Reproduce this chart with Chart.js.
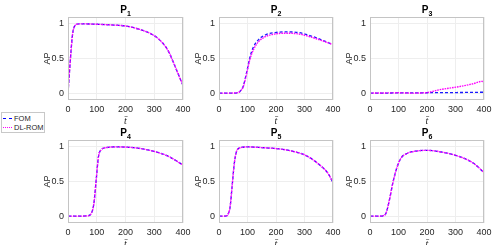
<!DOCTYPE html>
<html>
<head>
<meta charset="utf-8">
<script src="https://cdn.jsdelivr.net/npm/chart.js@4.4.0/dist/chart.umd.min.js"></script>
<style>
  body { margin: 0; width: 493px; height: 245px; overflow: hidden; background: #fff; position: relative;
         font-family: "Liberation Sans", Arial, sans-serif; }
  canvas { position: absolute; }
  .ttl { position: absolute; width: 40px; text-align: center; font-size: 10px; font-weight: bold; color: #000; line-height: 10px; }
  .ttl sub { font-size: 7px; vertical-align: -3px; line-height: 0; }
  .legend { position: absolute; left: 1px; top: 112px; width: 42px; height: 19px; border: 1px solid #c8c8c8; background: #fff;
            font-size: 7.5px; color: #262626; white-space: nowrap; }
  .legend div { position: absolute; left: 12px; line-height: 9px; }
  .legend span { position: absolute; left: 1px; width: 9px; height: 0; }
</style>
</head>
<body>

<div class="legend">
  <span style="top:5px; border-top:1.3px dashed #0000ff;"></span><div style="top:1px;">FOM</div>
  <span style="top:14px; border-top:1.3px dotted #ff00ff;"></span><div style="top:10px;">DL-ROM</div>
</div>

<script>
// 데이터 (t, FOM, DL-ROM)
const tP1 = [0, 5, 10, 15, 20, 25, 30, 40, 60, 100, 150, 200, 250, 300, 330, 350, 365, 380, 390, 400];
const fomP1 = [0, 0.3, 0.58, 0.82, 0.94, 0.98, 0.995, 1.0, 1.0, 0.995, 0.985, 0.97, 0.92, 0.83, 0.72, 0.6, 0.46, 0.31, 0.21, 0.11];
const romP1 = [0, 0.3, 0.58, 0.82, 0.94, 0.98, 0.995, 1.0, 1.0, 0.995, 0.985, 0.97, 0.92, 0.83, 0.72, 0.6, 0.46, 0.31, 0.21, 0.115];

const tP2 = [0, 40, 65, 75, 85, 97, 108, 120, 138, 162, 197, 232, 280, 327, 360, 400];
const fomP2 = [0, 0, 0.005, 0.03, 0.1, 0.3, 0.51, 0.66, 0.77, 0.84, 0.875, 0.885, 0.875, 0.82, 0.77, 0.70];
const romP2 = [0, 0, 0.005, 0.03, 0.09, 0.28, 0.48, 0.62, 0.74, 0.815, 0.855, 0.865, 0.855, 0.805, 0.76, 0.70];

const tP3 = [0, 50, 100, 150, 200, 245, 304, 362, 392, 400];
const fomP3 = [0, 0, 0.003, 0.003, 0.005, 0.006, 0.008, 0.01, 0.012, 0.012];
const romP3 = [0, 0.002, 0.004, 0.0, 0.008, 0.05, 0.087, 0.135, 0.17, 0.165];

const tP4 = [0, 50, 69, 81, 90, 98, 106, 116, 133, 168, 227, 285, 344, 400];
const fomP4 = [0, 0, 0.005, 0.04, 0.18, 0.52, 0.86, 0.96, 0.99, 1.0, 0.99, 0.95, 0.874, 0.74];
const romP4 = [0, 0, 0.005, 0.04, 0.18, 0.52, 0.86, 0.96, 0.99, 1.0, 0.99, 0.95, 0.874, 0.74];

const tP5 = [0, 20, 25, 30, 39, 46, 54, 62, 77, 101, 150, 200, 248, 306, 353, 382, 400];
const fomP5 = [0, 0, 0.003, 0.015, 0.135, 0.43, 0.77, 0.94, 0.99, 1.0, 0.99, 0.976, 0.947, 0.874, 0.74, 0.62, 0.485];
const romP5 = [0, 0, 0.003, 0.015, 0.135, 0.43, 0.77, 0.94, 0.99, 1.0, 0.99, 0.976, 0.947, 0.874, 0.74, 0.62, 0.485];

const tP6 = [0, 40, 47, 56, 68, 80, 92, 109, 127, 162, 200, 245, 304, 362, 400];
const fomP6 = [0, 0, 0.005, 0.04, 0.23, 0.475, 0.67, 0.84, 0.9, 0.94, 0.95, 0.93, 0.874, 0.767, 0.63];
const romP6 = [0, 0, 0.005, 0.04, 0.23, 0.475, 0.67, 0.84, 0.9, 0.94, 0.95, 0.93, 0.874, 0.767, 0.63];

const xTicks = [0, 100, 200, 300, 400];
const yTicks = [0, 0.5, 1];
const titles = ['1', '2', '3', '4', '5', '6'];

// 패널 위치 (plot 영역 left, width, top)
const panels = [
    { t: tP1, fom: fomP1, rom: romP1, left: 68, w: 115, top: 17 },
    { t: tP2, fom: fomP2, rom: romP2, left: 219, w: 114, top: 17 },
    { t: tP3, fom: fomP3, rom: romP3, left: 370, w: 114, top: 17 },
    { t: tP4, fom: fomP4, rom: romP4, left: 68, w: 115, top: 140 },
    { t: tP5, fom: fomP5, rom: romP5, left: 219, w: 114, top: 140 },
    { t: tP6, fom: fomP6, rom: romP6, left: 370, w: 114, top: 140 }
];

const PAD_TOP = 10, PAD_RIGHT = 12, Y_W = 26, X_H = 27, PLOT_H = 83;
const tickFont = { family: '"Liberation Sans", Arial, sans-serif', size: 9 };

// 축 박스
const boxPlugin = {
    id: 'box',
    afterDraw(chart) {
        const a = chart.chartArea, ctx = chart.ctx;
        ctx.save();
        ctx.strokeStyle = '#c4c4c4';
        ctx.lineWidth = 1;
        ctx.strokeRect(a.left + 0.5, a.top + 0.5, a.right - a.left - 1, a.bottom - a.top - 1);
        ctx.restore();
    }
};

function pts(t, y) {
    return t.map(function(v, i) { return { x: v, y: y[i] }; });
}

panels.forEach(function(p, i) {
    const cv = document.createElement('canvas');
    const cw = Y_W + p.w + PAD_RIGHT, ch = PAD_TOP + PLOT_H + X_H;
    cv.width = cw; cv.height = ch;
    cv.style.left = (p.left - Y_W) + 'px';
    cv.style.top = (p.top - PAD_TOP) + 'px';
    cv.style.width = cw + 'px'; cv.style.height = ch + 'px';
    document.body.appendChild(cv);

    // 제목
    const tt = document.createElement('div');
    tt.className = 'ttl';
    tt.innerHTML = 'P<sub>' + titles[i] + '</sub>';
    tt.style.left = (p.left + p.w / 2 - 20) + 'px';
    tt.style.top = (p.top - 12) + 'px';
    document.body.appendChild(tt);

    new Chart(cv, {
        type: 'line',
        data: {
            datasets: [{
                label: 'FOM',
                data: pts(p.t, p.fom),
                borderColor: '#1a1aff',
                borderWidth: 1.3,
                borderDash: [3, 2],
                pointRadius: 0,
                order: 1,
                cubicInterpolationMode: 'monotone'
            },
            {
                label: 'DL-ROM',
                data: pts(p.t, p.rom),
                borderColor: '#ff00ff',
                borderWidth: 1.4,
                borderDash: [1.6, 0.9],
                pointRadius: 0,
                order: 0,
                cubicInterpolationMode: 'monotone'
            }]
        },
        options: {
            responsive: false,
            animation: false,
            layout: { padding: { top: PAD_TOP, right: PAD_RIGHT, left: 0, bottom: 0 } },
            plugins: { legend: { display: false }, tooltip: { enabled: false } },
            scales: {
                x: {
                    type: 'linear', min: 0, max: 400,
                    afterBuildTicks: function(s) { s.ticks = xTicks.map(function(v) { return { value: v }; }); },
                    afterFit: function(s) { s.height = X_H; },
                    grid: { color: '#eeeeee', drawTicks: false },
                    border: { display: false },
                    ticks: { padding: 4, color: '#262626', font: tickFont, maxRotation: 0,
                             callback: function(v) { return String(v); } },
                    title: { display: true, text: 't\u0304', color: '#262626', padding: 0,
                             font: { family: '"Liberation Serif", serif', size: 10, style: 'italic' } }
                },
                y: {
                    min: -0.1, max: 1.1,
                    afterBuildTicks: function(s) { s.ticks = yTicks.map(function(v) { return { value: v }; }); },
                    afterFit: function(s) { s.width = Y_W; },
                    grid: { color: '#eeeeee', drawTicks: false },
                    border: { display: false },
                    ticks: { padding: 4, color: '#262626', font: tickFont,
                             callback: function(v) { return String(v); } },
                    title: { display: true, text: 'AP', color: '#262626', padding: 0, font: tickFont }
                }
            }
        },
        plugins: [boxPlugin]
    });
});
</script>
</body>
</html>
